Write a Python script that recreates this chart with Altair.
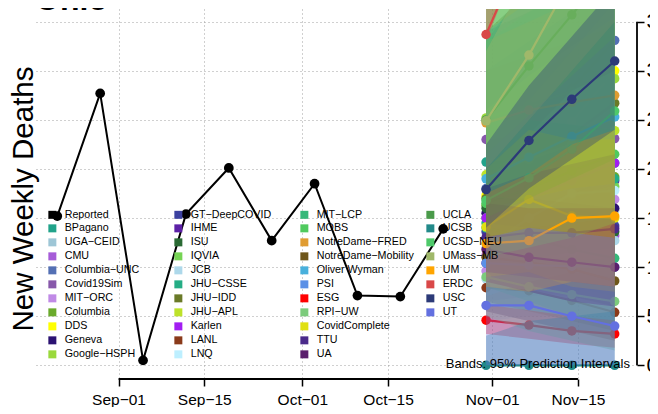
import altair as alt
import pandas as pd

# ---------------- data ----------------
reported_dates = ["2020-08-22", "2020-08-29", "2020-09-05", "2020-09-12", "2020-09-19",
                  "2020-09-26", "2020-10-03", "2020-10-10", "2020-10-17", "2020-10-24"]
reported_values = [152, 277, 5, 154, 201, 127, 185, 71, 70, 139]

forecast_dates = ["2020-10-31", "2020-11-07", "2020-11-14", "2020-11-21"]

legend_col1 = ["Reported", "BPagano", "UGA−CEID", "CMU", "Columbia−UNC", "Covid19Sim",
               "MIT−ORC", "Columbia", "DDS", "Geneva", "Google−HSPH"]
legend_col2 = ["GT−DeepCOVID", "IHME", "ISU", "IQVIA", "JCB", "JHU−CSSE", "JHU−IDD",
               "JHU−APL", "Karlen", "LANL", "LNQ"]
legend_col3 = ["MIT−LCP", "MOBS", "NotreDame−FRED", "NotreDame−Mobility", "Oliver Wyman",
               "PSI", "ESG", "RPI−UW", "CovidComplete", "TTU", "UA"]
legend_col4 = ["UCLA", "UCSB", "UCSD−NEU", "UMass−MB", "UM", "ERDC", "USC", "UT"]
legend_blanks = [" ", "  ", "   "]   # empty cells that complete the fourth legend column

model_colors = {
    "Reported": "#000000", "BPagano": "#21a38a", "UGA−CEID": "#9ec6d6", "CMU": "#a65cd8",
    "Columbia−UNC": "#5470b4", "Covid19Sim": "#8758aa", "MIT−ORC": "#c08ae6",
    "Columbia": "#6aaa2c", "DDS": "#ffff00", "Geneva": "#2b1272", "Google−HSPH": "#9ad93c",
    "GT−DeepCOVID": "#3c41a0", "IHME": "#5c20a6", "ISU": "#2a6a34", "IQVIA": "#76d454",
    "JCB": "#add8ea", "JHU−CSSE": "#25ad85", "JHU−IDD": "#6a7a28", "JHU−APL": "#bde22a",
    "Karlen": "#a21df2", "LANL": "#8a3a1a", "LNQ": "#bdefff",
    "MIT−LCP": "#36b87a", "MOBS": "#4fca5e", "NotreDame−FRED": "#e09c32",
    "NotreDame−Mobility": "#6e561a", "Oliver Wyman": "#48b0dc", "PSI": "#5a90e6",
    "ESG": "#ff0000", "RPI−UW": "#7ccb7c", "CovidComplete": "#e0e012", "TTU": "#4a2a8a",
    "UA": "#5a1e6c", "UCLA": "#4a9a4a", "UCSB": "#228a8a", "UCSD−NEU": "#4ec96a",
    "UMass−MB": "#a0b86a", "UM": "#ffa500", "ERDC": "#d94848", "USC": "#2c3a78",
    "UT": "#6370e0", " ": "rgba(0,0,0,0)", "  ": "rgba(0,0,0,0)", "   ": "rgba(0,0,0,0)",
}

# median, lower (2.5%), upper (97.5%) for the four forecast weeks
median = {
    "BPagano": [207, 205, 204, 206], "UGA−CEID": [150, 152, 155, 158],
    "CMU": [112, 118, 125, 132], "Columbia−UNC": [180, 230, 282, 331],
    "Covid19Sim": [230, 229, 231, 231], "MIT−ORC": [96, 120, 145, 169],
    "Columbia": [163, 172, 182, 192], "DDS": [173, 206, 248, 300],
    "Geneva": [155, 157, 158, 160], "Google−HSPH": [252, 265, 279, 292],
    "GT−DeepCOVID": [136, 138, 140, 142], "IHME": [104, 135, 162, 188],
    "ISU": [160, 150, 142, 136], "IQVIA": [150, 162, 172, 182],
    "JCB": [88, 102, 115, 127], "JHU−CSSE": [145, 160, 175, 190],
    "JHU−IDD": [170, 200, 235, 267], "JHU−APL": [194, 210, 225, 239],
    "Karlen": [150, 170, 188, 206], "LANL": [79, 76, 66, 54],
    "LNQ": [120, 150, 175, 178], "MIT−LCP": [140, 130, 118, 109],
    "MOBS": [165, 180, 198, 215], "NotreDame−FRED": [247, 260, 268, 275],
    "NotreDame−Mobility": [110, 105, 98, 86], "Oliver Wyman": [190, 212, 233, 253],
    "PSI": [104, 102, 101, 100], "ESG": [46, 41, 35, 32],
    "RPI−UW": [90, 80, 72, 65], "CovidComplete": [141, 169, 152, 150],
    "TTU": [130, 135, 135, 139], "UA": [118, 110, 105, 100],
    "UCLA": [250, 305, 357, 410], "UCSB": [0, 0, 0, 0],
    "UCSD−NEU": [168, 191, 220, 259], "UMass−MB": [249, 316, 395, 470],
    "UM": [124, 127, 150, 152], "ERDC": [337, 437, 535, 630],
    "USC": [179, 229, 271, 310], "UT": [61, 61, 50, 40],
}
lower = {
    "BPagano": [150, 135, 120, 110], "UGA−CEID": [100, 90, 80, 70],
    "CMU": [80, 75, 70, 65], "Columbia−UNC": [125, 150, 175, 195],
    "Covid19Sim": [175, 165, 155, 145], "MIT−ORC": [65, 70, 75, 80],
    "Columbia": [105, 100, 95, 90], "DDS": [120, 140, 160, 180],
    "Geneva": [100, 95, 90, 85], "Google−HSPH": [180, 175, 170, 165],
    "GT−DeepCOVID": [90, 80, 70, 60], "IHME": [70, 85, 100, 110],
    "ISU": [100, 85, 70, 60], "IQVIA": [95, 95, 95, 95],
    "JCB": [45, 50, 50, 55], "JHU−CSSE": [90, 90, 90, 90],
    "JHU−IDD": [105, 110, 120, 125], "JHU−APL": [135, 135, 135, 135],
    "Karlen": [95, 100, 105, 110], "LANL": [55, 45, 35, 25],
    "LNQ": [70, 85, 95, 90], "MIT−LCP": [80, 65, 50, 40],
    "MOBS": [105, 110, 115, 120], "NotreDame−FRED": [175, 165, 160, 150],
    "NotreDame−Mobility": [65, 55, 45, 35], "Oliver Wyman": [130, 140, 145, 150],
    "PSI": [55, 45, 35, 30], "ESG": [32, 27, 22, 18],
    "RPI−UW": [50, 35, 25, 15], "CovidComplete": [90, 95, 80, 75],
    "TTU": [95, 90, 85, 80], "UA": [85, 75, 65, 60],
    "UCLA": [150, 170, 190, 210], "UCSB": [0, 0, 0, 0],
    "UCSD−NEU": [110, 120, 130, 145], "UMass−MB": [200, 250, 300, 350],
    "UM": [80, 75, 85, 80], "ERDC": [330, 440, 540, 640],
    "USC": [140, 180, 210, 240], "UT": [0, 0, 0, 0],
}
upper = {
    "BPagano": [340, 360, 380, 400], "UGA−CEID": [215, 235, 255, 275],
    "CMU": [165, 180, 195, 210], "Columbia−UNC": [330, 390, 450, 510],
    "Covid19Sim": [300, 315, 330, 345], "MIT−ORC": [150, 185, 225, 265],
    "Columbia": [260, 290, 320, 350], "DDS": [230, 270, 320, 370],
    "Geneva": [215, 230, 240, 250], "Google−HSPH": [370, 395, 420, 445],
    "GT−DeepCOVID": [190, 205, 220, 235], "IHME": [150, 190, 230, 270],
    "ISU": [230, 235, 235, 235], "IQVIA": [230, 260, 285, 310],
    "JCB": [145, 175, 200, 225], "JHU−CSSE": [300, 330, 360, 390],
    "JHU−IDD": [340, 380, 420, 460], "JHU−APL": [260, 295, 325, 355],
    "Karlen": [215, 255, 295, 335], "LANL": [110, 110, 105, 100],
    "LNQ": [185, 235, 280, 300], "MIT−LCP": [250, 250, 245, 240],
    "MOBS": [330, 360, 390, 420], "NotreDame−FRED": [330, 350, 370, 390],
    "NotreDame−Mobility": [170, 170, 165, 160], "Oliver Wyman": [340, 370, 400, 430],
    "PSI": [160, 170, 180, 185], "ESG": [62, 56, 50, 46],
    "RPI−UW": [145, 140, 135, 130], "CovidComplete": [200, 240, 230, 230],
    "TTU": [180, 195, 205, 215], "UA": [165, 160, 160, 160],
    "UCLA": [390, 470, 550, 630], "UCSB": [30, 45, 50, 55],
    "UCSD−NEU": [370, 400, 430, 470], "UMass−MB": [320, 400, 500, 600],
    "UM": [175, 195, 225, 240], "ERDC": [420, 560, 700, 840],
    "USC": [225, 285, 335, 385], "UT": [130, 140, 135, 130],
}

x_tick_dates = ["2020-09-01", "2020-09-15", "2020-10-01", "2020-10-15", "2020-11-01", "2020-11-15"]
y_ticks = [0, 50, 100, 150, 200, 250, 300, 350]
title_text = "Ohio"
y_title = "New Weekly Deaths"
band_note = "Bands: 95% Prediction Intervals"

# ---------------- tables ----------------
legend_order = legend_col1 + legend_col2 + legend_col3 + legend_col4 + legend_blanks
color_range = [model_colors[m] for m in legend_order]
draw_order = [m for m in legend_order if m.strip() and m != "Reported"]

rep_df = pd.DataFrame({"date": reported_dates, "value": reported_values, "model": "Reported"})
rows = []
for m in draw_order:
    for i, d in enumerate(forecast_dates):
        rows.append({"model": m, "date": d, "med": median[m][i], "lo": lower[m][i], "hi": upper[m][i]})
fc_df = pd.DataFrame(rows)


def ms(s):
    return int(pd.Timestamp(s, tz="UTC").value // 10**6)


tick_ms = [ms(s) for s in x_tick_dates]
x_pad = 0.04 * (ms(forecast_dates[-1]) - ms(reported_dates[0]))
x_domain = [ms(reported_dates[0]) - x_pad, ms(forecast_dates[-1]) + x_pad]
y_pad = 0.04 * 349
y_domain = [-y_pad, 349 + y_pad]

W, H = 602, 370
FONT = "Liberation Sans"
BAND_OPACITY = 0.35

xscale = alt.Scale(type="utc", domain=x_domain, nice=False)
yscale = alt.Scale(domain=y_domain, nice=False, zero=False)

x_axis = alt.Axis(values=tick_ms, labelExpr="utcFormat(datum.value, '%b−%d')",
                  labelFont=FONT, labelFontSize=15.5, labelColor="black",
                  tickSize=7, tickColor="black", tickWidth=1.5, domain=False,
                  grid=True, gridDash=[1, 3], gridColor="#a0a0a0", gridWidth=1,
                  title=None, labelPadding=6, labelOverlap=False, labelFlush=False)
y_axis = alt.Axis(orient="right", values=y_ticks, labelFont=FONT, labelFontSize=21,
                  labelColor="black", tickSize=7, tickColor="black", tickWidth=1.5,
                  domain=False, grid=True, gridDash=[1, 3], gridColor="#a0a0a0",
                  gridWidth=1, title=None, labelPadding=2)

X = alt.X("date:T", scale=xscale, axis=x_axis)

legend = alt.Legend(orient="none", legendX=12, legendY=200, columns=4, direction="vertical",
                    title=None, symbolType="square", symbolSize=64, symbolStrokeWidth=0,
                    symbolOpacity=1, symbolLimit=60, labelFont=FONT, labelFontSize=10.7,
                    labelColor="black", labelOffset=7, columnPadding=11, rowPadding=2,
                    gridAlign="all", padding=0, labelLimit=300)
cscale = alt.Scale(domain=legend_order, range=color_range)
color = alt.Color("model:N", scale=cscale, legend=legend)

layers = []
# Reported (points layer first so the shared legend uses filled symbols)
rep = alt.Chart(rep_df)
layers.append(rep.mark_circle(size=95, opacity=1).encode(
    x=X, y=alt.Y("value:Q", scale=yscale, axis=y_axis), color=color))
layers.append(rep.mark_line(strokeWidth=2).encode(
    x=X, y=alt.Y("value:Q", scale=yscale), color=color))

for m in draw_order:
    sub = alt.Chart(fc_df).transform_filter(alt.FieldEqualPredicate(field="model", equal=m))
    layers.append(sub.mark_area(opacity=BAND_OPACITY, clip=True).encode(
        x=X, y=alt.Y("lo:Q", scale=yscale), y2="hi:Q", color=color))
    layers.append(sub.mark_line(strokeWidth=2.2, opacity=1, clip=True).encode(
        x=X, y=alt.Y("med:Q", scale=yscale), color=color))
    layers.append(sub.mark_circle(size=90, opacity=1, clip=True).encode(
        x=X, y=alt.Y("med:Q", scale=yscale), color=color))

# axis lines spanning only the tick range
xline_df = pd.DataFrame({"a": [x_tick_dates[0]], "b": [x_tick_dates[-1]]})
layers.append(alt.Chart(xline_df).mark_rule(color="black", strokeWidth=1.8).encode(
    x=alt.X("a:T", scale=xscale), x2="b:T", y=alt.value(H)))
yline_df = pd.DataFrame({"a": [y_ticks[0]], "b": [y_ticks[-1]]})
layers.append(alt.Chart(yline_df).mark_rule(color="black", strokeWidth=1.8).encode(
    y=alt.Y("a:Q", scale=yscale), y2="b:Q", x=alt.value(W)))

# texts
layers.append(alt.Chart(pd.DataFrame({"t": [band_note]})).mark_text(
    font=FONT, fontSize=13, align="right", baseline="alphabetic", color="black").encode(
    text="t:N", x=alt.value(595), y=alt.value(359)))
layers.append(alt.Chart(pd.DataFrame({"t": [y_title]})).mark_text(
    font=FONT, fontSize=29.5, angle=270, align="center", baseline="alphabetic", color="black").encode(
    text="t:N", x=alt.value(-2), y=alt.value(190)))
layers.append(alt.Chart(pd.DataFrame({"t": [title_text]})).mark_text(
    font=FONT, fontSize=32, fontWeight="bold", align="left", baseline="alphabetic", color="black").encode(
    text="t:N", x=alt.value(0), y=alt.value(1)))

chart = alt.layer(*layers).properties(
    width=W, height=H,
    autosize=alt.AutoSizeParams(type="none"),
    padding={"left": 27, "top": 1, "right": 13, "bottom": 28},
    background="white",
).configure_view(stroke=None)

chart.save("out.html", embed_options={"renderer": "svg", "actions": False})
